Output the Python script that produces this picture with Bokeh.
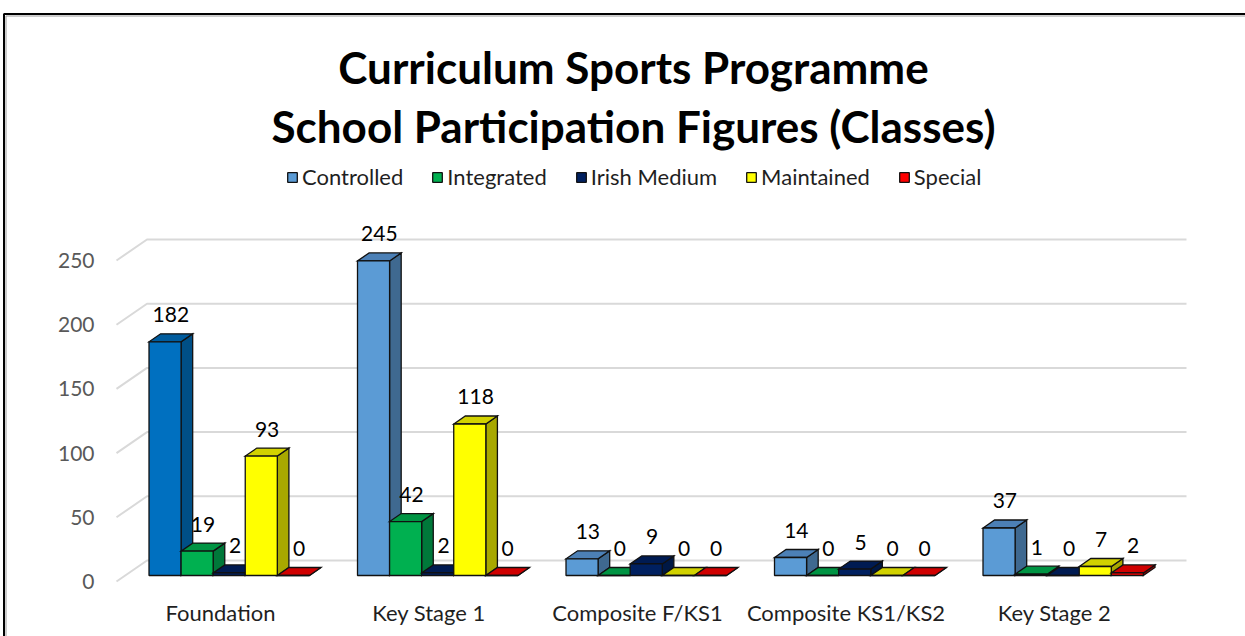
from bokeh.plotting import figure
from bokeh.models import Range1d, FixedTicker, ColumnDataSource, Legend, LegendItem
from bokeh.core.properties import value
from bokeh.embed import file_html
from bokeh.resources import INLINE

# ---------------- data ----------------
categories = ["Foundation", "Key Stage 1", "Composite F/KS1", "Composite KS1/KS2", "Key Stage 2"]
series_names = ["Controlled", "Integrated", "Irish Medium", "Maintained", "Special"]
controlled = [182, 245, 13, 14, 37]
integrated = [19, 42, 0, 0, 1]
irish_medium = [2, 2, 9, 5, 0]
maintained = [93, 118, 0, 0, 7]
special = [0, 0, 0, 0, 2]
y_ticks = [0, 50, 100, 150, 200, 250]
title_lines = ["Curriculum Sports Programme", "School Participation Figures (Classes)"]

series_values = [controlled, integrated, irish_medium, maintained, special]

# ---------------- style ----------------
# (front, top, side) colours per series
series_colors = [
    ("#5B9BD5", "#4C80B6", "#3F6990"),
    ("#00B050", "#009443", "#00783A"),
    ("#002060", "#001B52", "#001845"),
    ("#FFFF00", "#D2D200", "#A8A800"),
    ("#FF0000", "#D00000", "#A80000"),
]
# single-point override (Foundation / Controlled drawn in darker blue)
override = {(0, 0): ("#0070C0", "#005C9E", "#004F86")}

W, H = 1245, 636
PX_PER_CAT = 208.5
PX_PER_UNIT = 1.284
ORIGIN_X_PX = 220.0   # front-plane centre of first category
ORIGIN_Y_PX = 581.0   # front-plane zero line
GAP = 1.5             # gap width (fraction of bar width)
BAR_OFF = (8.7, 6.0)      # bar front plane relative to chart front plane (px right, px up)
BAR_DEPTH = (11.6, 8.0)   # bar depth (px right, px up)
WALL = (30.5, 21.0)       # back wall relative to front plane
WALL_LEFT_PX = 116.0
WALL_RIGHT_PX = 1186.0


def ux(px):
    return (px - ORIGIN_X_PX) / PX_PER_CAT


def vy(py):
    return (ORIGIN_Y_PX - py) / PX_PER_UNIT


def dx(px):
    return px / PX_PER_CAT


def dy(px):
    return px / PX_PER_UNIT


p = figure(width=W, height=H, output_backend="svg", toolbar_location=None, tools="",
           x_range=Range1d(ux(0), ux(W)), y_range=Range1d(vy(H), vy(0)),
           min_border=0, min_border_left=0, min_border_right=0,
           min_border_top=0, min_border_bottom=0, outline_line_color=None)
p.background_fill_color = "white"
p.border_fill_color = "white"
p.xgrid.visible = False
p.ygrid.visible = False

# ---------------- chart border ----------------
p.line(x=[ux(3.5), ux(3.5), ux(W + 10)], y=[vy(H + 10), vy(13.5), vy(13.5)],
       line_color="#000000", line_width=2)
p.line(x=[ux(5.5), ux(5.5), ux(W + 10)], y=[vy(H + 10), vy(15.5), vy(15.5)],
       line_color="#9A9A9A", line_width=1)

# ---------------- back wall gridlines ----------------
wx, wy = dx(WALL[0]), dy(WALL[1])
gx, gy = [], []
for t in y_ticks:
    gx.append([ux(WALL_LEFT_PX), ux(WALL_LEFT_PX) + wx, ux(WALL_RIGHT_PX)])
    gy.append([t, t + wy, t + wy])
p.multi_line(xs=gx, ys=gy, line_color="#D9D9D9", line_width=2)

# ---------------- 3D bars ----------------
n_series = len(series_values)
bw = 1.0 / (n_series + GAP)
ddx, ddy = dx(BAR_DEPTH[0]), dy(BAR_DEPTH[1])
ox, oy = dx(BAR_OFF[0]), dy(BAR_OFF[1])

front_renderers = []
lab_x, lab_y, lab_t = [], [], []
for s, vals in enumerate(series_values):
    side = dict(xs=[], ys=[], c=[])
    top = dict(xs=[], ys=[], c=[])
    front = dict(l=[], r=[], b=[], t=[], c=[])
    for i, v in enumerate(vals):
        fc, tc, sc = override.get((s, i), series_colors[s])
        xl = i + (s - n_series / 2.0) * bw + ox
        xr = xl + bw
        yb = oy
        yt = yb + v
        side["xs"].append([xr, xr + ddx, xr + ddx, xr])
        side["ys"].append([yb, yb + ddy, yt + ddy, yt])
        side["c"].append(sc)
        top["xs"].append([xl, xr, xr + ddx, xl + ddx])
        top["ys"].append([yt, yt, yt + ddy, yt + ddy])
        top["c"].append(tc)
        front["l"].append(xl)
        front["r"].append(xr)
        front["b"].append(yb)
        front["t"].append(yt)
        front["c"].append(fc)
        lab_x.append((xl + xr) / 2 + ddx / 2)
        lab_y.append(yt + ddy + dy(19))
        lab_t.append(str(v))
    p.patches(xs="xs", ys="ys", fill_color="c", line_color="#111111", line_width=1.3,
              line_join="miter", source=ColumnDataSource(side))
    p.patches(xs="xs", ys="ys", fill_color="c", line_color="#111111", line_width=1.3,
              line_join="miter", source=ColumnDataSource(top))
    r = p.quad(left="l", right="r", bottom="b", top="t", fill_color="c",
               line_color="#111111", line_width=1.3, source=ColumnDataSource(front))
    front_renderers.append(r)

# data labels
p.text(x=lab_x, y=lab_y, text=lab_t, text_align="center", text_baseline="middle",
       text_font=value("Lato"), text_font_size="21px", text_color="#000000")

# ---------------- axes ----------------
ya = p.yaxis[0]
ya.fixed_location = ux(WALL_LEFT_PX)
ya.ticker = FixedTicker(ticks=y_ticks)
ya.axis_line_color = None
ya.major_tick_line_color = None
ya.minor_tick_line_color = None
ya.major_label_standoff = 16
ya.major_label_text_font = "Lato"
ya.major_label_text_font_size = "21px"
ya.major_label_text_color = "#595959"

xa = p.xaxis[0]
xa.fixed_location = 0
xa.ticker = FixedTicker(ticks=list(range(len(categories))))
xa.major_label_overrides = {i: c for i, c in enumerate(categories)}
xa.axis_line_color = None
xa.major_tick_line_color = None
xa.minor_tick_line_color = None
xa.major_label_standoff = 11
xa.major_label_text_font = "Lato"
xa.major_label_text_font_size = "22px"
xa.major_label_text_color = "#1f1f1f"

# ---------------- title ----------------
p.text(x=[ux(633), ux(633)], y=[vy(66), vy(125)], text=title_lines,
       text_align="center", text_baseline="middle", text_font=value("Lato"),
       text_font_style="bold", text_font_size="44px", text_color="#000000")

# ---------------- legend ----------------
items = []
for s, name in enumerate(series_names):
    idx = 1 if s == 0 else 0
    items.append(LegendItem(label=name, renderers=[front_renderers[s]], index=idx))
legend = Legend(items=items, orientation="horizontal", location=(286, 446),
                glyph_width=12, glyph_height=12, label_standoff=4, spacing=28,
                padding=0, margin=0, border_line_color=None, background_fill_alpha=0,
                label_text_font="Lato", label_text_font_size="22px",
                label_text_color="#1f1f1f")
p.add_layout(legend)

open("out.html", "w").write(file_html(p, INLINE))
